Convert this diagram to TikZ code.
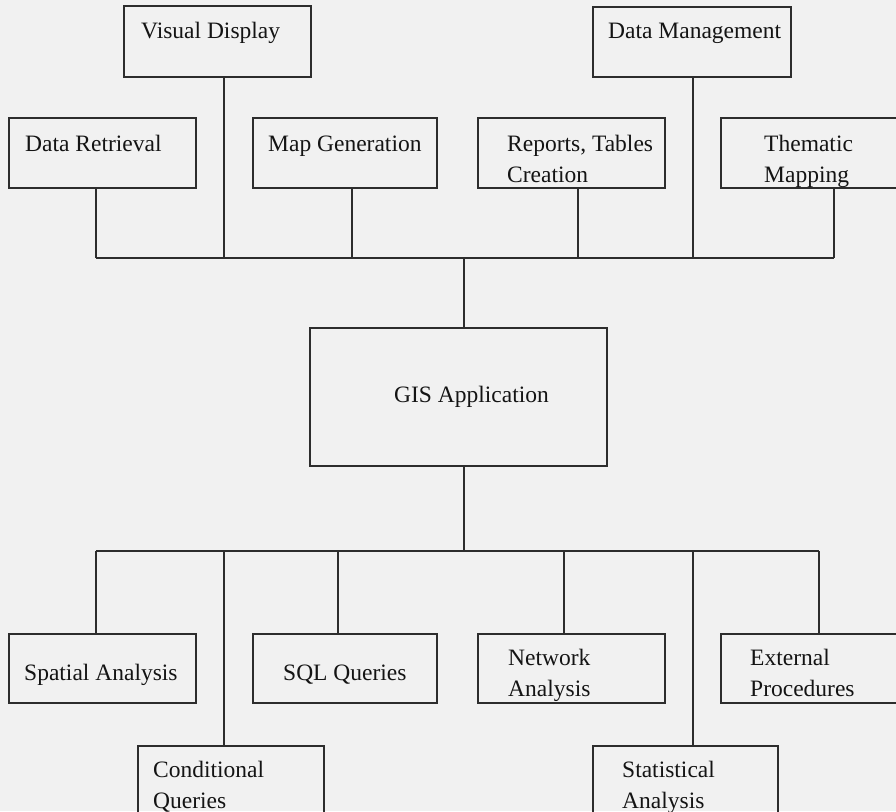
\documentclass[tikz,border=0pt]{standalone}
\usepackage{fontspec}
\setmainfont{Liberation Serif}
\definecolor{bgc}{RGB}{241,241,241}
\definecolor{linec}{RGB}{45,45,45}
\definecolor{textc}{RGB}{20,20,20}
\begin{document}
\begin{tikzpicture}[x=1pt,y=-1pt,
  box/.style={draw=linec, line width=1.2pt, rectangle, inner sep=0pt, outer sep=0pt, anchor=north west},
  lbl/.style={font=\fontsize{23.5}{31}\selectfont, text=textc, inner sep=0pt, align=left, anchor=base west},
  conn/.style={draw=linec, line width=1.2pt}]
\useasboundingbox (0,0) rectangle (896,811);
\fill[bgc] (0,0) rectangle (896,811);
% boxes
\node[box, minimum width=187pt, minimum height=71pt] (vd) at (124,6) {};
\node[box, minimum width=198pt, minimum height=70pt] (dm) at (593,7) {};
\node[box, minimum width=187pt, minimum height=70pt] (dr) at (9,118) {};
\node[box, minimum width=184pt, minimum height=70pt] (mg) at (253,118) {};
\node[box, minimum width=187pt, minimum height=70pt] (rt) at (478,118) {};
\node[box, minimum width=189pt, minimum height=70pt] (tm) at (721,118) {};
\node[box, minimum width=297pt, minimum height=138pt] (gis) at (310,328) {};
\node[box, minimum width=187pt, minimum height=69pt] (sa) at (9,634) {};
\node[box, minimum width=184pt, minimum height=69pt] (sql) at (253,634) {};
\node[box, minimum width=187pt, minimum height=69pt] (na) at (478,634) {};
\node[box, minimum width=189pt, minimum height=69pt] (ep) at (721,634) {};
\node[box, minimum width=186pt, minimum height=84pt] (cq) at (138,746) {};
\node[box, minimum width=185pt, minimum height=84pt] (st) at (593,746) {};
% labels (multi-line labels are anchored at the baseline of their last line)
\node[lbl] (tvd) at (141,38) {Visual Display};
\node[lbl] (tdm) at (608,38) {Data Management};
\node[lbl] (tdr) at (25,151) {Data Retrieval};
\node[lbl] (tmg) at (268,151) {Map Generation};
\node[lbl] (trt) at (507,182) {Reports, Tables\\Creation};
\node[lbl] (ttm) at (764,182) {Thematic\\Mapping};
\node[lbl] (tgis) at (394,402) {GIS Application};
\node[lbl] (tsa) at (24,680) {Spatial Analysis};
\node[lbl] (tsql) at (283,680) {SQL Queries};
\node[lbl] (tna) at (508,696) {Network\\Analysis};
\node[lbl] (tep) at (750,696) {External\\Procedures};
\node[lbl] (tcq) at (153,808) {Conditional\\Queries};
\node[lbl] (tst) at (622,808) {Statistical\\Analysis};
% top tree
\coordinate (tl) at (96,258);
\coordinate (tr) at (834,258);
\coordinate (tc) at (464,258);
\coordinate (xvd) at (224,258);
\coordinate (xmg) at (352,258);
\coordinate (xrt) at (578,258);
\coordinate (xdm) at (693,258);
\draw[conn] (tl) -- (tr);
\draw[conn] (tl) -- (tl |- dr.south);
\draw[conn] (xvd) -- (xvd |- vd.south);
\draw[conn] (xmg) -- (xmg |- mg.south);
\draw[conn] (xrt) -- (xrt |- rt.south);
\draw[conn] (xdm) -- (xdm |- dm.south);
\draw[conn] (tr) -- (tr |- tm.south);
\draw[conn] (tc) -- (tc |- gis.north);
% bottom tree
\coordinate (bl) at (96,551);
\coordinate (br) at (819,551);
\coordinate (bc) at (464,551);
\coordinate (xcq) at (224,551);
\coordinate (xsql) at (338,551);
\coordinate (xna) at (564,551);
\coordinate (xst) at (693,551);
\draw[conn] (bl) -- (br);
\draw[conn] (bc) -- (bc |- gis.south);
\draw[conn] (bl) -- (bl |- sa.north);
\draw[conn] (xcq) -- (xcq |- cq.north);
\draw[conn] (xsql) -- (xsql |- sql.north);
\draw[conn] (xna) -- (xna |- na.north);
\draw[conn] (xst) -- (xst |- st.north);
\draw[conn] (br) -- (br |- ep.north);
\end{tikzpicture}
\end{document}
